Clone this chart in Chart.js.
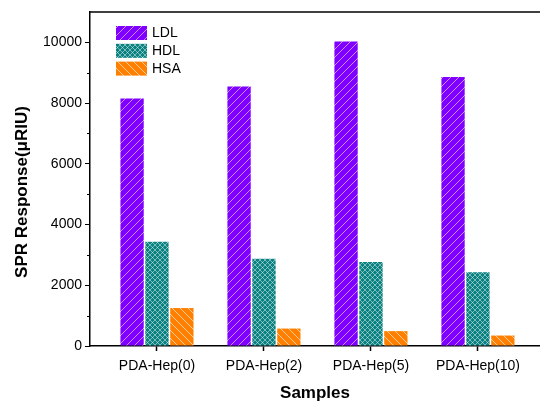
<!DOCTYPE html>
<html>
<head>
<meta charset="utf-8">
<script src="https://cdn.jsdelivr.net/npm/chart.js@4.4.1/dist/chart.umd.min.js"></script>
<style>
  html, body { margin: 0; padding: 0; background: #fff; overflow: hidden; }
  #wrap { width: 540px; height: 404px; }
</style>
</head>
<body>
<div id="wrap"><canvas id="sprChart" width="540" height="404"></canvas></div>
<script>
const categories = ["PDA-Hep(0)", "PDA-Hep(2)", "PDA-Hep(5)", "PDA-Hep(10)"];
const ldlValues = [8150, 8550, 10030, 8860];
const hdlValues = [3430, 2870, 2770, 2430];
const hsaValues = [1250, 575, 490, 345];
const yTicks = [0, 2000, 4000, 6000, 8000, 10000];
const yMinorTicks = [1000, 3000, 5000, 7000, 9000];
const yTitle = 'SPR Response(\u03bcRIU)';

const FONT = "'Liberation Sans', Arial, sans-serif";

// small tile with hatch lines, used as bar fill
function makeHatch(bg, lineColor, size, dirs, lineWidth) {
    const c = document.createElement('canvas');
    c.width = size;
    c.height = size;
    const g = c.getContext('2d');
    g.fillStyle = bg;
    g.fillRect(0, 0, size, size);
    g.strokeStyle = lineColor;
    g.lineWidth = lineWidth;
    dirs.forEach(d => {
        g.beginPath();
        if (d === '/') {
            g.moveTo(-1, size + 1); g.lineTo(size + 1, -1);
            g.moveTo(-1, 1); g.lineTo(1, -1);
            g.moveTo(size - 1, size + 1); g.lineTo(size + 1, size - 1);
        } else {
            g.moveTo(-1, -1); g.lineTo(size + 1, size + 1);
            g.moveTo(size - 1, -1); g.lineTo(size + 1, 1);
            g.moveTo(-1, size - 1); g.lineTo(1, size + 1);
        }
        g.stroke();
    });
    return document.getElementById('sprChart').getContext('2d').createPattern(c, 'repeat');
}

const ldlFill = makeHatch('#7f00ff', 'rgba(255,255,255,0.55)', 8, ['/'], 1);
const hdlFill = makeHatch('#0b8282', 'rgba(255,255,255,0.45)', 5, ['/', '\\'], 1);
const hsaFill = makeHatch('#ff8000', 'rgba(255,255,255,0.6)', 8, ['\\'], 1);

function toPoints(values) {
    return values.map((v, i) => ({ x: i, y: v }));
}

const framePlugin = {
    id: 'frame',
    afterDraw(chart) {
        const ctx = chart.ctx;
        const area = chart.chartArea;
        const y = chart.scales.y;
        ctx.save();
        // top frame line
        ctx.strokeStyle = '#000';
        ctx.lineWidth = 1.5;
        ctx.beginPath();
        ctx.moveTo(area.left, area.top);
        ctx.lineTo(area.right, area.top);
        ctx.stroke();
        // minor ticks on y
        ctx.lineWidth = 1;
        yMinorTicks.forEach(v => {
            const py = Math.round(y.getPixelForValue(v)) + 0.5;
            ctx.beginPath();
            ctx.moveTo(area.left - 3, py);
            ctx.lineTo(area.left, py);
            ctx.stroke();
        });
        // y title, sits a bit below the plot centre like the original
        ctx.save();
        ctx.translate(22, (area.top + area.bottom) / 2 + 13);
        ctx.rotate(-Math.PI / 2);
        ctx.font = 'bold 17px ' + FONT;
        ctx.textAlign = 'center';
        ctx.textBaseline = 'middle';
        ctx.fillStyle = '#000';
        ctx.fillText(yTitle, 0, 0);
        ctx.restore();
        // legend inside plot
        ctx.font = '14px ' + FONT;
        ctx.textBaseline = 'middle';
        ctx.textAlign = 'left';
        chart.data.datasets.forEach((ds, i) => {
            const top = area.top + 14 + i * 17.8;
            ctx.fillStyle = ds.backgroundColor;
            ctx.fillRect(area.left + 26, top, 31, 14);
            ctx.fillStyle = '#000';
            ctx.fillText(ds.label, area.left + 62, top + 7.5);
        });
        ctx.restore();
    }
};

new Chart(document.getElementById('sprChart'), {
    type: 'bar',
    data: {
        datasets: [
            { label: 'LDL', data: toPoints(ldlValues), backgroundColor: ldlFill },
            { label: 'HDL', data: toPoints(hdlValues), backgroundColor: hdlFill },
            { label: 'HSA', data: toPoints(hsaValues), backgroundColor: hsaFill }
        ]
    },
    options: {
        responsive: false,
        animation: false,
        layout: { padding: { top: 12, right: 0, left: 0, bottom: 0 } },
        datasets: {
            bar: { categoryPercentage: 0.698, barPercentage: 0.936, borderWidth: 0 }
        },
        plugins: {
            legend: { display: false },
            tooltip: { enabled: false }
        },
        scales: {
            x: {
                type: 'linear',
                min: -0.626,
                max: 3.58,
                offset: false,
                afterBuildTicks: s => { s.ticks = categories.map((c, i) => ({ value: i })); },
                afterFit: s => { s.height = 58; },
                grid: { offset: false, drawOnChartArea: false, drawTicks: true, tickLength: 5, color: '#000', tickWidth: 1.5 },
                border: { color: '#000', width: 1.5 },
                ticks: {
                    color: '#000',
                    font: { family: FONT, size: 14 },
                    padding: 7,
                    maxRotation: 0,
                    autoSkip: false,
                    callback: v => categories[v]
                },
                title: {
                    display: true,
                    text: 'Samples',
                    color: '#000',
                    font: { family: FONT, size: 17, weight: 'bold' },
                    padding: { top: 0, bottom: 0 }
                }
            },
            y: {
                min: 0,
                max: 11000,
                afterBuildTicks: s => { s.ticks = yTicks.map(v => ({ value: v })); },
                afterFit: s => { s.width = 90; },
                grid: { drawOnChartArea: false, drawTicks: true, tickLength: 5, color: '#000', tickWidth: 1 },
                border: { color: '#000', width: 1.5 },
                ticks: {
                    color: '#000',
                    font: { family: FONT, size: 14 },
                    padding: 3,
                    callback: v => String(v)
                },
                title: { display: false }
            }
        }
    },
    plugins: [framePlugin]
});
</script>
</body>
</html>
